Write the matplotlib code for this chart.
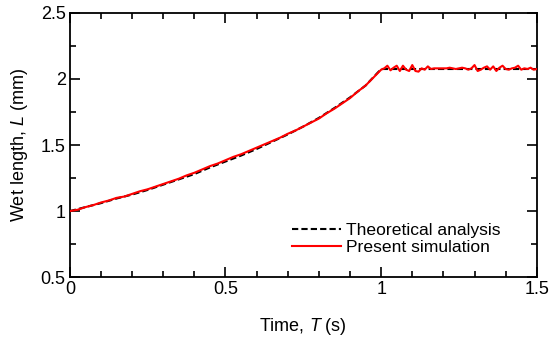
import matplotlib
matplotlib.use("Agg")
import matplotlib.pyplot as plt
from matplotlib.ticker import MultipleLocator, FormatStrFormatter
import numpy as np

plt.rcParams["font.family"] = "Liberation Sans"
plt.rcParams["mathtext.fontset"] = "custom"
plt.rcParams["mathtext.rm"] = "Liberation Sans"
plt.rcParams["mathtext.it"] = "Liberation Sans:italic"

# theoretical analysis
theory_t = [0.0, 0.05, 0.1, 0.15, 0.2, 0.25, 0.3, 0.35, 0.4, 0.45, 0.5,
            0.55, 0.6, 0.65, 0.7, 0.75, 0.8, 0.85, 0.9, 0.95, 1.0, 1.5]
theory_L = [1.00, 1.03, 1.06, 1.095, 1.125, 1.16, 1.20, 1.24, 1.28, 1.33, 1.375,
            1.42, 1.47, 1.525, 1.58, 1.64, 1.705, 1.78, 1.86, 1.95, 2.075, 2.075]

# present simulation, rising part (step 0.025)
sim_rise_t = [i * 0.025 for i in range(40)]
sim_rise_L = [1.00, 1.01, 1.03, 1.045, 1.065, 1.08, 1.10, 1.11, 1.13, 1.15,
              1.165, 1.185, 1.205, 1.225, 1.245, 1.27, 1.29, 1.315, 1.34, 1.36,
              1.385, 1.41, 1.43, 1.455, 1.48, 1.505, 1.53, 1.555, 1.585, 1.61,
              1.64, 1.67, 1.70, 1.74, 1.775, 1.815, 1.855, 1.905, 1.95, 2.01]

# present simulation, plateau (step 0.01)
sim_flat_t = [1.0 + i * 0.01 for i in range(51)]
sim_flat_L = [2.07, 2.08, 2.10, 2.065, 2.085, 2.10, 2.06, 2.10, 2.07, 2.06,
              2.105, 2.06, 2.055, 2.08, 2.07, 2.095, 2.075, 2.08, 2.08, 2.08,
              2.08, 2.08, 2.085, 2.08, 2.075, 2.08, 2.085, 2.08, 2.07, 2.08,
              2.105, 2.06, 2.07, 2.085, 2.095, 2.07, 2.095, 2.06, 2.085, 2.10,
              2.075, 2.07, 2.08, 2.085, 2.10, 2.07, 2.08, 2.075, 2.085, 2.07,
              2.075]

sim_t = sim_rise_t + sim_flat_t
sim_L = sim_rise_L + sim_flat_L

fig = plt.figure(figsize=(5.5, 3.38), dpi=100)
ax = fig.add_axes([0.127, 0.180, 0.849, 0.782])

ax.plot(theory_t, theory_L, color="black", linestyle=(0, (3, 1.5)), linewidth=1.5,
        label="Theoretical analysis", zorder=2)
ax.plot(sim_t, sim_L, color="#ff0000", linewidth=1.5,
        label="Present simulation", zorder=3)

ax.set_xlim(0, 1.5)
ax.set_ylim(0.5, 2.5)
ax.xaxis.set_major_locator(MultipleLocator(0.5))
ax.xaxis.set_minor_locator(MultipleLocator(0.1))
ax.yaxis.set_major_locator(MultipleLocator(0.5))
ax.yaxis.set_minor_locator(MultipleLocator(0.25))
ax.xaxis.set_major_formatter(FormatStrFormatter("%g"))
ax.yaxis.set_major_formatter(FormatStrFormatter("%g"))
ax.tick_params(which="both", direction="in", top=True, right=True, width=1.2,
               labelsize=13, colors="black")
ax.tick_params(which="major", length=7, pad=3)
ax.tick_params(which="minor", length=4)
for s in ax.spines.values():
    s.set_linewidth(1.3)

ax.set_xlabel("Time, $T$ (s)", fontsize=13, labelpad=13)
ax.set_ylabel("Wet length, $L$ (mm)", fontsize=13, labelpad=8)

ax.legend(loc="lower right", frameon=False, fontsize=12.6, handlelength=2.8,
          handletextpad=0.3, labelspacing=0.1, borderpad=0, borderaxespad=0,
          bbox_to_anchor=(0.922, 0.085))

fig.savefig("out.png", dpi=100)
